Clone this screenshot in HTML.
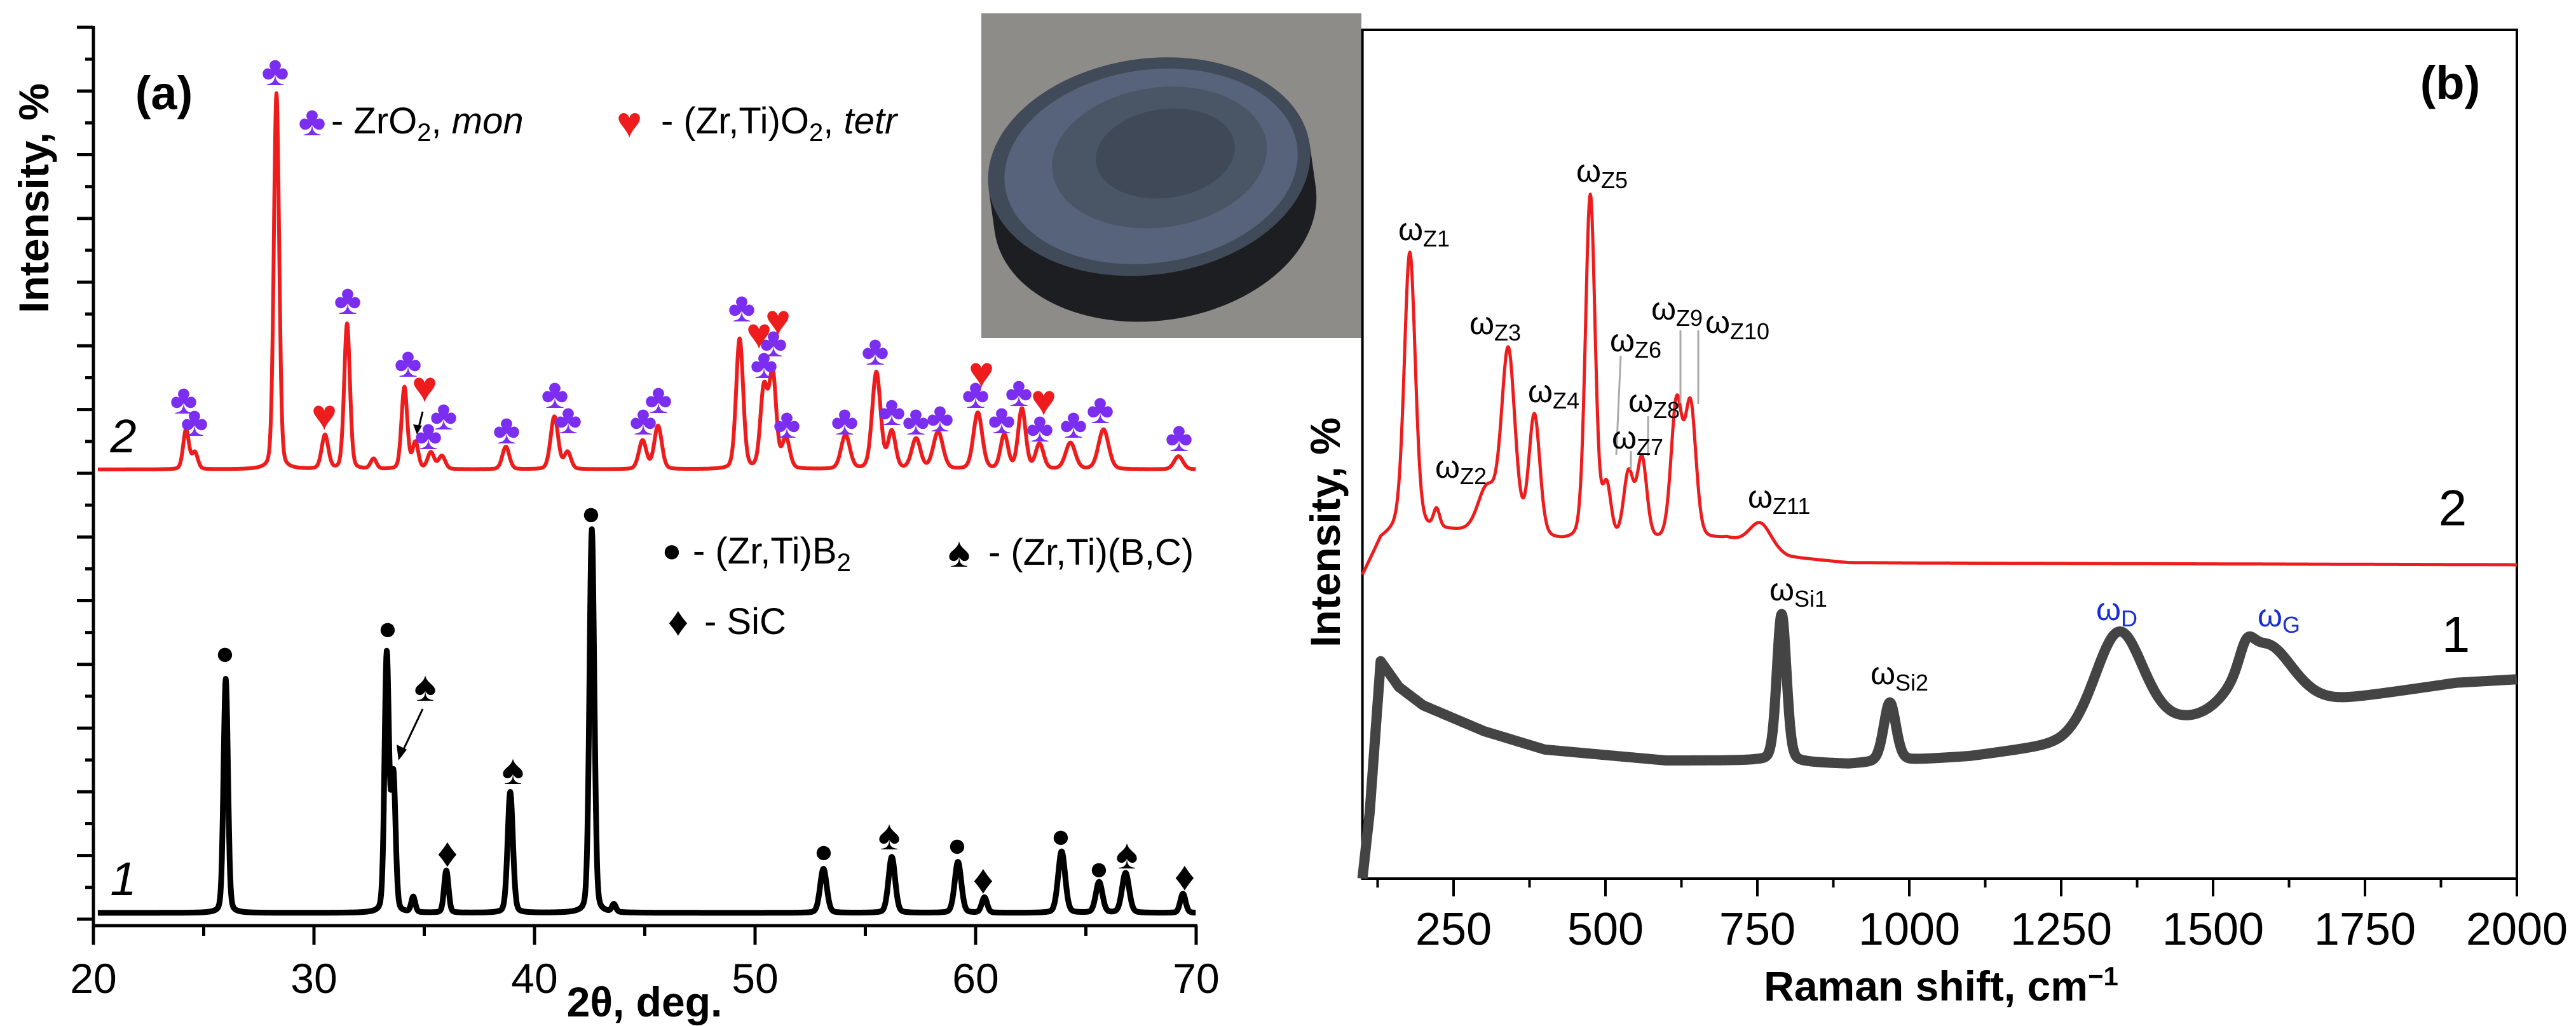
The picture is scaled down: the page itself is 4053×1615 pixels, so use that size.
<!DOCTYPE html>
<html><head><meta charset="utf-8"><style>
html,body{margin:0;padding:0;background:#fff;}
svg{display:block;}
text{font-family:"Liberation Sans",Arial,sans-serif;}
</style></head><body>
<svg id="fig" width="4053" height="1615" viewBox="0 0 4053 1615" xmlns="http://www.w3.org/2000/svg">
<rect x="0" y="0" width="4053" height="1615" fill="#fff"/>
<g id="photo">
  <rect x="1544" y="21" width="598" height="511" fill="#8e8c89"/>
  <g transform="rotate(-8 1812 290)">
  <ellipse cx="1812" cy="330" rx="255" ry="175" fill="#1d1e22"/>
  <rect x="1557" y="262" width="510" height="68" fill="#1d1e22"/>
  <ellipse cx="1812" cy="262" rx="255" ry="170" fill="#404a58"/>
  <ellipse cx="1815" cy="262" rx="232" ry="152" fill="#56637a"/>
  <ellipse cx="1830" cy="250" rx="170" ry="110" fill="#4a5566"/>
  <ellipse cx="1840" cy="245" rx="110" ry="70" fill="#3f4958"/>
  </g>
</g>
<g id="axesA"></g>
<g id="axesB"></g>
<g id="curves"></g>
<g id="labels"></g>
</svg>
<script>
// ---------- Panel (a) XRD data ----------
const redPos=[24.2,24.6,28.3,30.5,31.5,32.7,34.1,34.6,35.3,35.8,38.7,40.9,41.5,44.9,45.6,49.3,50.4,50.8,51.4,54.1,55.5,56.2,57.3,58.3,60.1,61.3,62.1,62.9,64.3,65.8,69.2];
const redInt=[10.6,4.4,100,9,38.7,2.7,21.8,7,4.4,3.5,6,14,4.5,7.6,11.5,34.6,21,25,8,9,25.7,9.8,8,9.8,15,9,16,6.6,7,10.6,3.5];
const redWid=[0.13,0.13,0.12,0.15,0.13,0.13,0.13,0.13,0.15,0.15,0.16,0.17,0.15,0.17,0.17,0.16,0.16,0.16,0.17,0.2,0.19,0.17,0.2,0.22,0.2,0.17,0.17,0.18,0.22,0.23,0.2];
const blkPos=[26.0,33.3,33.6,34.5,36.0,38.9,42.6,43.6,53.1,56.2,59.2,60.4,63.9,65.6,66.8,69.4];
const blkInt=[61,67,35,4,11,31.5,100,2,11.5,14.6,13.3,4,16,8,10.4,5];
const blkWid=[0.1,0.1,0.1,0.09,0.1,0.12,0.11,0.09,0.15,0.15,0.15,0.12,0.16,0.15,0.16,0.12];
const xTicksA=[20,30,40,50,60,70];
// ---------- Panel (b) Raman data ----------
const r2Pos=[178,222,305,340,383,475,502,538,560,617,640,755];
const r2Int=[75,5,12,50,33,94,14,18,22,37,36,7];
const r2Wid=[9,5,15,11,9,8,7,8,8,9,9,18];
const r2BgX=[100,130,160,250,430,600,700,800,900,2000];
const r2BgY=[-3,7,10,9,6,6,7,2,0.5,0];
const r1Pos=[790,968,1345,1555,1585];
const r1Int=[40,16,28,6,18];
const r1Wid=[8,10,40,12,45];
const r1BgX=[100,112,130,160,200,300,400,600,750,900,1100,1250,1450,1700,1900,2000];
const r1BgY=[0,18,59,52,47,40,35,32,32,31,33,36,42,48,53,54];
const xTicksB=[250,500,750,1000,1250,1500,1750,2000];

const NS="http://www.w3.org/2000/svg";
function mk(parent,tag,attrs){const e=document.createElementNS(NS,tag);for(const k in attrs)e.setAttribute(k,attrs[k]);parent.appendChild(e);return e;}
const axA=document.getElementById('axesA'), axB=document.getElementById('axesB');
const curves=document.getElementById('curves'), labels=document.getElementById('labels');

const aX=t=>147+(t-20)*34.7;
const aYr=v=>739-v*5.92;
const aYk=v=>1437-v*6.04;
const bX=v=>3960-(2000-v)*0.956;
const bYr=v=>889-v*5.79;
const bYk=v=>1383-v*5.8;

function gsum(x,pos,ints,wids){let s=0;for(let i=0;i<pos.length;i++){const d=(x-pos[i])/wids[i];s+=ints[i]*(0.8*Math.exp(-0.5*d*d)+0.2/(1+d*d/1.5));}return s;}
function interp(x,xs,ys){if(x<=xs[0])return ys[0];for(let i=1;i<xs.length;i++){if(x<=xs[i]){const f=(x-xs[i-1])/(xs[i]-xs[i-1]);return ys[i-1]+f*(ys[i]-ys[i-1]);}}return ys[ys.length-1];}

mk(axA,'line',{x1:147,y1:41,x2:147,y2:1459,stroke:'#000','stroke-width':5});
mk(axA,'line',{x1:145,y1:1457,x2:1884,y2:1457,stroke:'#000','stroke-width':5});
for(let i=0;i<=28;i++){const y=43+i*50.14;const L=(i%2===0)?26:13;
  const t=mk(axA,'line',{x1:147-L,y1:y,x2:147,y2:y,stroke:'#000','stroke-width':5});
  
  }
for(let v=20;v<=70;v+=5){const major=(v%10===0);
  const t=mk(axA,'line',{x1:aX(v),y1:1457,x2:aX(v),y2:1457+(major?30:16),stroke:'#000','stroke-width':5});
  
  }
xTicksA.forEach(v=>{const t=mk(axA,'text',{x:aX(v),y:1563,'font-size':66,'text-anchor':'middle'});t.textContent=v;
  
  });

mk(axB,'rect',{x:bX(100),y:47,width:bX(2000)-bX(100),height:1336,fill:'none',stroke:'#000','stroke-width':4});
for(let v=125;v<=2000;v+=125){const major=(v%250===0);
  const t=mk(axB,'line',{x1:bX(v),y1:1383,x2:bX(v),y2:1383+(major?28:14),stroke:'#000','stroke-width':4});
  
  }
xTicksB.forEach(v=>{const t=mk(axB,'text',{x:bX(v),y:1487,'font-size':72,'text-anchor':'middle'});t.textContent=v;
  
  });

function path(points){return 'M'+points.map(p=>p[0].toFixed(1)+','+p[1].toFixed(1)).join('L');}
let pr=[],pk=[];
for(let t=20.2;t<=70;t+=0.02){pr.push([aX(t),aYr(gsum(t,redPos,redInt,redWid))]);pk.push([aX(t),aYk(gsum(t,blkPos,blkInt,blkWid))]);}
const c2a=mk(curves,'path',{d:path(pr),fill:'none',stroke:'#ee1c1c','stroke-width':6,'stroke-linejoin':'round'});


const c1a=mk(curves,'path',{d:path(pk),fill:'none',stroke:'#000','stroke-width':9,'stroke-linejoin':'round'});


let qr=[],qk=[];
for(let v=100;v<=2000;v+=1){qr.push([bX(v),bYr(interp(v,r2BgX,r2BgY)+gsum(v,r2Pos,r2Int,r2Wid))]);qk.push([bX(v),bYk(interp(v,r1BgX,r1BgY)+gsum(v,r1Pos,r1Int,r1Wid))]);}
const c2b=mk(curves,'path',{d:path(qr),fill:'none',stroke:'#ee1c1c','stroke-width':5,'stroke-linejoin':'round'});


const c1b=mk(curves,'path',{d:path(qk),fill:'none',stroke:'#444','stroke-width':16,'stroke-linejoin':'round'});



const clubs=[[433,110],[547,470],[642,569],[289,627],[306,662],[698,652],[674,683],[797,674],[873,618],[894,658],[1012,660],[1036,626],[1167,482],[1202,571],[1217,537],[1238,665],[1377,550],[1329,660],[1403,645],[1441,660],[1479,655],[1535,618],[1576,658],[1603,615],[1636,671],[1689,665],[1731,642],[1855,686]];
const hearts=[[510,652],[668,608],[1194,524],[1224,503],[1544,585],[1642,629]];
const dots=[[354,1027],[610,988],[930,807],[1296,1339],[1506,1329],[1669,1315],[1729,1366]];
const spades=[[669,1079],[807,1210],[1399,1313],[1773,1343]];
const diamonds=[[704,1341],[1547,1383],[1864,1378]];
function glyph(list,ch,col,size,name){list.forEach(p=>{const t=mk(labels,'text',{x:p[0],y:p[1]+size*0.36,'font-size':size,'text-anchor':'middle',fill:col,'font-family':'DejaVu Sans, sans-serif'});t.textContent=ch;
  
  });}
glyph(clubs,'♣','#7b2df0',66,'zro2-mon-marker');
glyph(hearts,'♥','#ee1c1c',68,'tetr-marker');
glyph(dots,'●','#000',52,'boride-marker');
glyph(spades,'♠','#000',66,'borocarbide-marker');
glyph(diamonds,'♦','#000',64,'sic-marker');
</script>
<div style="position:absolute;left:0;top:0;width:4053px;height:1615px;pointer-events:none;">
<svg width="4053" height="1615" viewBox="0 0 4053 1615" xmlns="http://www.w3.org/2000/svg" style="position:absolute;left:0;top:0;">
<style>text{font-family:"Liberation Sans",Arial,sans-serif;}</style>
<line x1="665" y1="1116" x2="630" y2="1190" stroke="#000" stroke-width="3"/>
<path d="M627,1197 L624,1172 L640,1180 Z" fill="#000"/>
<line x1="665" y1="648" x2="658" y2="676" stroke="#000" stroke-width="3"/>
<path d="M656,684 L650,668 L664,670 Z" fill="#000"/>
<text x="258" y="172" font-size="74" font-weight="bold" text-anchor="middle">(a)</text>
<text transform="translate(76,312) rotate(-90)" font-size="66" font-weight="bold" text-anchor="middle">Intensity, %</text>
<text x="1014" y="1600" font-size="66" font-weight="bold" text-anchor="middle">2θ, deg.</text>
<text x="194" y="712" font-size="74" font-style="italic" text-anchor="middle">2</text>
<text x="194" y="1409" font-size="74" font-style="italic" text-anchor="middle">1</text>
<g>
<text x="491" y="213" font-size="66" fill="#7b2df0" text-anchor="middle" font-family="DejaVu Sans, sans-serif">♣</text>
<text x="521" y="210" font-size="58">- ZrO<tspan font-size="40" dy="12">2</tspan><tspan dy="-12">, </tspan><tspan font-style="italic">mon</tspan></text>
<text x="990" y="216" font-size="68" fill="#ee1c1c" text-anchor="middle" font-family="DejaVu Sans, sans-serif">♥</text>
<text x="1040" y="210" font-size="58">- (Zr,Ti)O<tspan font-size="40" dy="12">2</tspan><tspan dy="-12">, </tspan><tspan font-style="italic">tetr</tspan></text>
</g>
<g>
<text x="1057" y="884" font-size="52" text-anchor="middle" font-family="DejaVu Sans, sans-serif">●</text>
<text x="1090" y="887" font-size="58">- (Zr,Ti)B<tspan font-size="40" dy="12">2</tspan></text>
<text x="1509" y="892" font-size="66" text-anchor="middle" font-family="DejaVu Sans, sans-serif">♠</text>
<text x="1555" y="889" font-size="58">- (Zr,Ti)(B,C)</text>
<text x="1067" y="1000" font-size="64" text-anchor="middle" font-family="DejaVu Sans, sans-serif">♦</text>
<text x="1108" y="998" font-size="58">- SiC</text>
</g>
<text x="3855" y="156" font-size="74" font-weight="bold" text-anchor="middle">(b)</text>
<text transform="translate(2108,838) rotate(-90)" font-size="66" font-weight="bold" text-anchor="middle">Intensity, %</text>
<text x="3054" y="1575" font-size="66" font-weight="bold" text-anchor="middle">Raman shift, cm<tspan font-size="42" dy="-24">−1</tspan></text>
<text x="3859" y="827" font-size="80" text-anchor="middle">2</text>
<text x="3864" y="1026" font-size="80" text-anchor="middle">1</text>
<g stroke="#aaa" stroke-width="3">
<line x1="2550" y1="560" x2="2543" y2="716"/>
<line x1="2566" y1="710" x2="2566" y2="740"/>
<line x1="2593" y1="655" x2="2593" y2="718"/>
<line x1="2644" y1="520" x2="2644" y2="634"/>
<line x1="2672" y1="520" x2="2672" y2="636"/>
</g>
<g font-size="50">
<text x="2200" y="378">ω<tspan font-size="36" dy="10">Z1</tspan></text>
<text x="2258" y="752">ω<tspan font-size="36" dy="10">Z2</tspan></text>
<text x="2312" y="526">ω<tspan font-size="36" dy="10">Z3</tspan></text>
<text x="2404" y="633">ω<tspan font-size="36" dy="10">Z4</tspan></text>
<text x="2480" y="286">ω<tspan font-size="36" dy="10">Z5</tspan></text>
<text x="2533" y="553">ω<tspan font-size="36" dy="10">Z6</tspan></text>
<text x="2536" y="706">ω<tspan font-size="36" dy="10">Z7</tspan></text>
<text x="2562" y="648">ω<tspan font-size="36" dy="10">Z8</tspan></text>
<text x="2598" y="503">ω<tspan font-size="36" dy="10">Z9</tspan></text>
<text x="2683" y="524">ω<tspan font-size="36" dy="10">Z10</tspan></text>
<text x="2750" y="799">ω<tspan font-size="36" dy="10">Z11</tspan></text>
<text x="2784" y="945">ω<tspan font-size="36" dy="10">Si1</tspan></text>
<text x="2943" y="1077">ω<tspan font-size="36" dy="10">Si2</tspan></text>
<text x="3298" y="976" fill="#1a2fd0">ω<tspan font-size="36" dy="10">D</tspan></text>
<text x="3552" y="986" fill="#1a2fd0">ω<tspan font-size="36" dy="10">G</tspan></text>
</g>
</svg>
</div>
</body></html>
